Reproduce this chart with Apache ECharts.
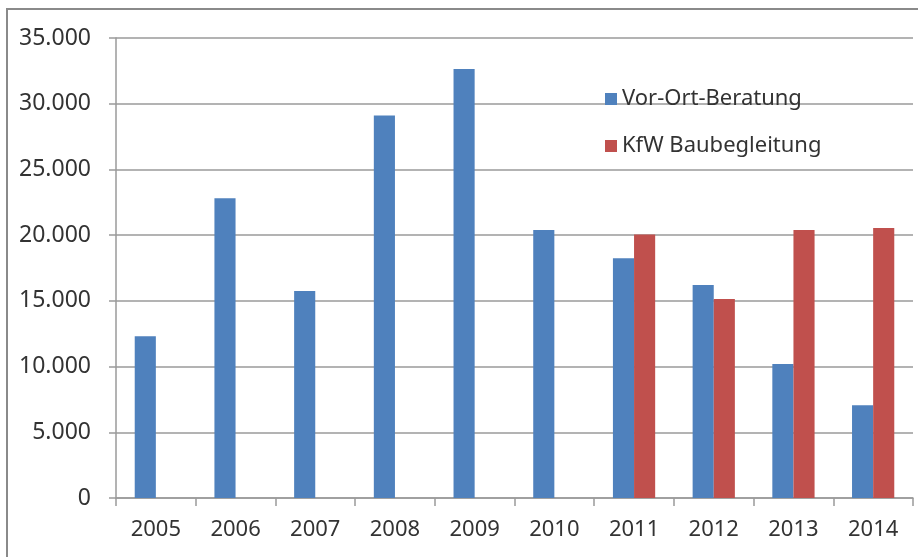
<!DOCTYPE html>
<html>
<head>
<meta charset="utf-8">
<script src="https://cdn.jsdelivr.net/npm/echarts@6/dist/echarts.min.js"></script>
<style>html,body{margin:0;padding:0;background:#fff}#c{width:918px;height:557px}</style>
</head>
<body>
<div id="c"></div>
<script>
const categories = ['2005','2006','2007','2008','2009','2010','2011','2012','2013','2014'];
const seriesNames = ['Vor-Ort-Beratung', 'KfW Baubegleitung'];
const vorOrt = [12300, 22800, 15750, 29100, 32650, 20400, 18250, 16200, 10200, 7050];
const kfw = [null, null, null, null, null, null, 20050, 15150, 20400, 20550];
const yTicks = { min: 0, max: 35000, interval: 5000 };

function fmt(v) {
  return String(v).replace(/\B(?=(\d{3})+(?!\d))/g, '.');
}

const chart = echarts.init(document.getElementById('c'), null, { renderer: 'canvas' });
const FONT = '"Noto Sans", "Open Sans", sans-serif';
const TXT = '#333333';
chart.setOption({
  animation: false,
  backgroundColor: '#fff',
  textStyle: { fontFamily: FONT },
  graphic: [{
    type: 'polyline',
    shape: { points: [[7, 600], [7, 9], [1000, 9]] },
    style: { stroke: '#8a8a8a', lineWidth: 2, fill: null },
    silent: true
  }],
  grid: { left: 116, right: 5, top: 38, bottom: 59, containLabel: false },
  legend: {
    orient: 'vertical',
    left: 600,
    top: 82,
    itemWidth: 12,
    itemHeight: 12,
    itemGap: 23,
    icon: 'rect',
    data: seriesNames,
    textStyle: { fontFamily: FONT, fontSize: 22, color: TXT, lineHeight: 24, padding: [0, 0, 0, 0] },
    backgroundColor: 'transparent'
  },
  xAxis: {
    type: 'category',
    data: categories,
    axisLine: { lineStyle: { color: '#9a9a9a', width: 1.5 } },
    axisTick: { show: true, length: 8, lineStyle: { color: '#9a9a9a', width: 1.5 } },
    axisLabel: { fontFamily: FONT, fontSize: 22, color: TXT, margin: 21 },
    splitLine: { show: false }
  },
  yAxis: {
    type: 'value',
    min: yTicks.min,
    max: yTicks.max,
    interval: yTicks.interval,
    axisLine: { show: true, lineStyle: { color: '#9a9a9a', width: 1.5 } },
    axisTick: { show: true, length: 7, lineStyle: { color: '#9a9a9a', width: 1.5 } },
    axisLabel: { fontFamily: FONT, fontSize: 23, color: TXT, margin: 25, formatter: fmt },
    splitLine: { show: true, lineStyle: { color: '#9a9a9a', width: 1.5 } }
  },
  series: [
    {
      name: seriesNames[0], type: 'bar', data: vorOrt,
      itemStyle: { color: '#4F81BD' },
      barGap: '0%', barCategoryGap: '47%'
    },
    {
      name: seriesNames[1], type: 'bar', data: kfw,
      itemStyle: { color: '#C0504D' },
      barGap: '0%', barCategoryGap: '47%'
    }
  ]
});
</script>
</body>
</html>
